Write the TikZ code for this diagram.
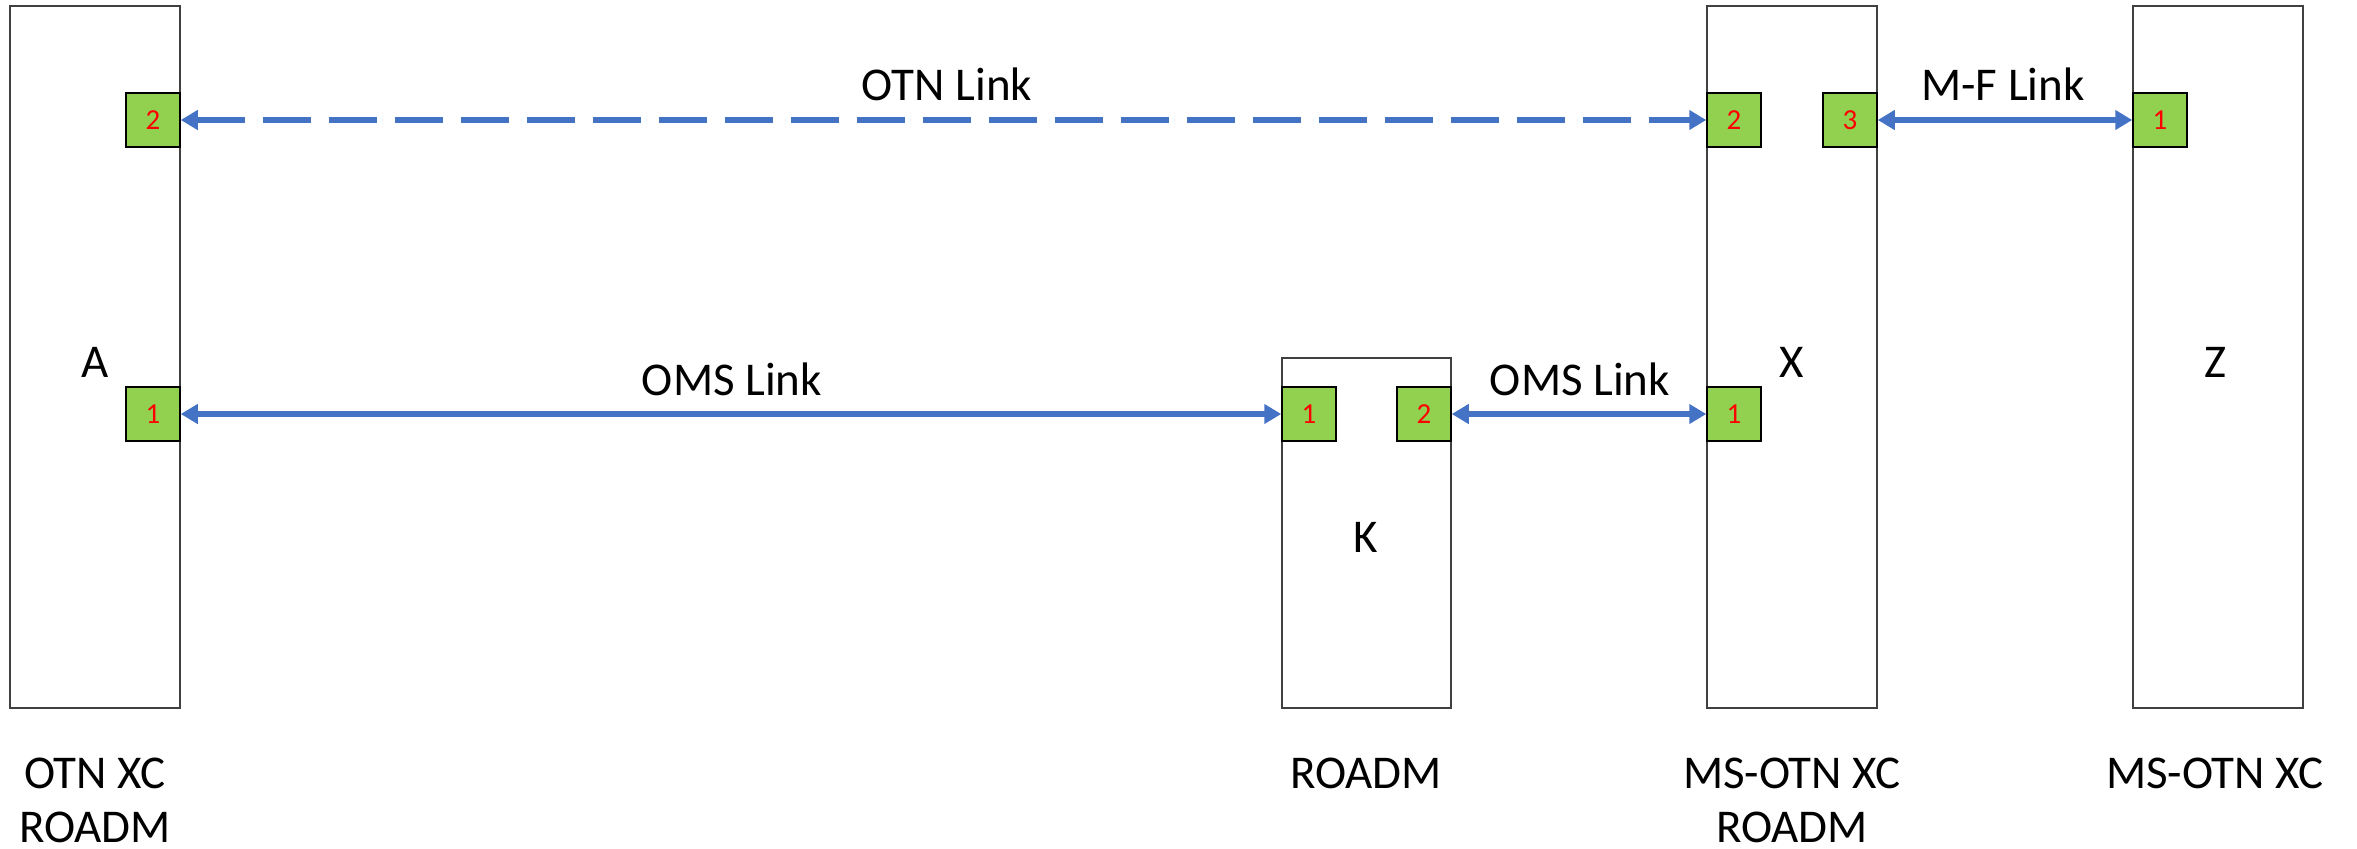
\documentclass[tikz,border=0pt]{standalone}
\usepackage{fontspec}
\setmainfont{Carlito}
\usetikzlibrary{arrows.meta,fit}
\definecolor{linkblue}{HTML}{4472C4}
\definecolor{portgreen}{HTML}{92D050}
\definecolor{boxline}{HTML}{404040}
\begin{document}
\begin{tikzpicture}[x=0.5pt,y=-0.5pt,
  devbox/.style={draw=boxline,line width=0.7pt,fill=white,inner sep=0pt},
  port/.style={draw=black,line width=0.75pt,fill=portgreen,minimum size=27pt,inner sep=0pt,
    text=red,font=\fontsize{14.5}{16}\selectfont},
  lbl/.style={font=\fontsize{23.5}{27}\selectfont,align=center,inner sep=0pt},
  link/.style={draw=linkblue,line width=3pt,{Triangle[length=8.5pt,width=9.5pt]}-{Triangle[length=8.5pt,width=9.5pt]}},
  otnlink/.style={link,dash pattern=on 24pt off 9pt}]
\useasboundingbox (0,0) rectangle (2357,848);

% network elements
\node[devbox,fit={(10,6) (180,708)}] (A) {};
\node[devbox,fit={(1282,358) (1451,708)}] (K) {};
\node[devbox,fit={(1707,6) (1877,708)}] (X) {};
\node[devbox,fit={(2133,6) (2303,708)}] (Z) {};

% element names
\node[lbl] (nA) at (95,362) {A};
\node[lbl] (nK) at (1366,537) {K};
\node[lbl] (nX) at (1792,362) {X};
\node[lbl] (nZ) at (2215,362) {Z};

% ports
\node[port] (A2) at (153,120) {2};
\node[port] (A1) at (153,414) {1};
\node[port] (K1) at (1309,414) {1};
\node[port] (K2) at (1424,414) {2};
\node[port] (X2) at (1734,120) {2};
\node[port] (X3) at (1850,120) {3};
\node[port] (X1) at (1734,414) {1};
\node[port] (Z1) at (2160,120) {1};

% links
\draw[otnlink] (A2.east) -- (X2.west);
\draw[link] (X3.east) -- (Z1.west);
\draw[link] (A1.east) -- (K1.west);
\draw[link] (K2.east) -- (X1.west);

% link names
\node[lbl] (lOTN) at (947,84) {OTN Link};
\node[lbl] (lMF) at (2003,84) {M-F Link};
\node[lbl] (lOMS1) at (732,379) {OMS Link};
\node[lbl] (lOMS2) at (1580,379) {OMS Link};

% element types
\node[lbl] (tA) at (95,800) {OTN XC\\ROADM};
\node[lbl] (tK) at (1366,773) {ROADM};
\node[lbl] (tX) at (1792,800) {MS-OTN XC\\ROADM};
\node[lbl] (tZ) at (2215,773) {MS-OTN XC};
\end{tikzpicture}
\end{document}
